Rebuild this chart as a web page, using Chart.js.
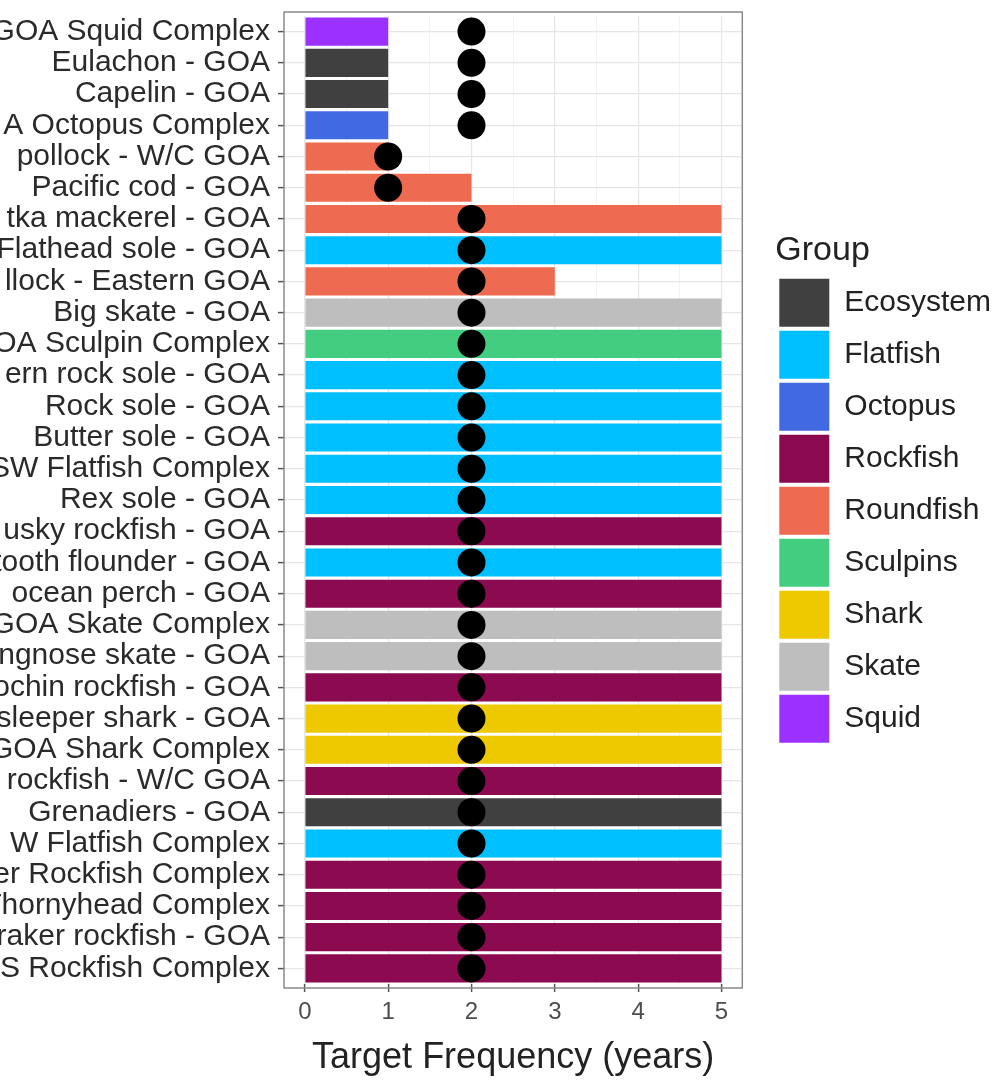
<!DOCTYPE html>
<html>
<head>
<meta charset="utf-8">
<script src="https://cdn.jsdelivr.net/npm/chart.js@4/dist/chart.umd.min.js"></script>
<style>
  html, body { margin: 0; padding: 0; background: #fff; }
  #wrap { width: 1001px; height: 1082px; }
</style>
</head>
<body>
<div id="wrap"><canvas id="freqChart" width="1001" height="1082"></canvas></div>
<script>
// stocks, top to bottom (labels cut off at the left as in the source figure)
const stocks = [
  'GOA Squid Complex', 'Eulachon - GOA', 'Capelin - GOA', 'A Octopus Complex',
  'pollock - W/C GOA', 'Pacific cod - GOA', 'tka mackerel - GOA', 'Flathead sole - GOA',
  'llock - Eastern GOA', 'Big skate - GOA', 'OA Sculpin Complex', 'ern rock sole - GOA',
  'Rock sole - GOA', 'Butter sole - GOA', 'SW Flatfish Complex', 'Rex sole - GOA',
  'usky rockfish - GOA', 'tooth flounder - GOA', 'ocean perch - GOA', 'GOA Skate Complex',
  'ngnose skate - GOA', 'ochin rockfish - GOA', 'sleeper shark - GOA', 'GOA Shark Complex',
  'rockfish - W/C GOA', 'Grenadiers - GOA', 'W Flatfish Complex', 'er Rockfish Complex',
  'Thornyhead Complex', 'raker rockfish - GOA', 'S Rockfish Complex'
];
const stockGroup = [
  'Squid', 'Ecosystem', 'Ecosystem', 'Octopus',
  'Roundfish', 'Roundfish', 'Roundfish', 'Flatfish',
  'Roundfish', 'Skate', 'Sculpins', 'Flatfish',
  'Flatfish', 'Flatfish', 'Flatfish', 'Flatfish',
  'Rockfish', 'Flatfish', 'Rockfish', 'Skate',
  'Skate', 'Rockfish', 'Shark', 'Shark',
  'Rockfish', 'Ecosystem', 'Flatfish', 'Rockfish',
  'Rockfish', 'Rockfish', 'Rockfish'
];
// bar = target frequency, dot = second value (years)
const targetFreq = [1, 1, 1, 1, 1, 2, 5, 5, 3, 5, 5, 5, 5, 5, 5, 5, 5, 5, 5, 5, 5, 5, 5, 5, 5, 5, 5, 5, 5, 5, 5];
const dotFreq    = [2, 2, 2, 2, 1, 1, 2, 2, 2, 2, 2, 2, 2, 2, 2, 2, 2, 2, 2, 2, 2, 2, 2, 2, 2, 2, 2, 2, 2, 2, 2];

const groups = ['Ecosystem', 'Flatfish', 'Octopus', 'Rockfish', 'Roundfish', 'Sculpins', 'Shark', 'Skate', 'Squid'];
const groupColors = ['#404040', '#00bfff', '#4169e1', '#8b0a50', '#ee6a50', '#43cd80', '#eec900', '#bebebe', '#9b30ff'];
const xTicks = [0, 0.5, 1, 1.5, 2, 2.5, 3, 3.5, 4, 4.5, 5];

const FONT = "'Liberation Sans', Arial, sans-serif";
Chart.defaults.font.family = FONT;
Chart.defaults.color = '#333';

const colorOf = g => groupColors[groups.indexOf(g)];

// grey panel border, like ggplot theme_bw
const panelBorder = {
  id: 'panelBorder',
  afterDraw(chart) {
    const { ctx, chartArea: a } = chart;
    ctx.save();
    ctx.strokeStyle = '#8a8a8a';
    ctx.lineWidth = 1.5;
    ctx.strokeRect(a.left, a.top - 4, a.right - a.left, a.bottom - a.top + 8);
    ctx.restore();
  }
};

new Chart(document.getElementById('freqChart').getContext('2d'), {
  type: 'bar',
  data: {
    labels: stocks,
    datasets: [
      {
        type: 'line',
        indexAxis: 'y',
        label: 'dots',
        data: dotFreq,
        showLine: false,
        pointRadius: 14,
        pointBackgroundColor: '#000',
        pointBorderColor: '#000',
        pointBorderWidth: 0,
        order: 0
      },
      {
        label: 'Target Frequency',
        data: targetFreq,
        backgroundColor: stockGroup.map(colorOf),
        borderWidth: 0,
        barPercentage: 0.9,
        categoryPercentage: 1.0,
        order: 1
      }
    ]
  },
  options: {
    indexAxis: 'y',
    responsive: false,
    animation: false,
    layout: { padding: { top: 16, left: 0, right: 0, bottom: 0 } },
    scales: {
      x: {
        type: 'linear',
        min: -0.25,
        max: 5.25,
        afterBuildTicks: scale => { scale.ticks = xTicks.map(v => ({ value: v })); },
        afterFit: scale => { scale.height = 98; },
        ticks: {
          autoSkip: false,
          maxRotation: 0,
          padding: 6,
          color: '#4d4d4d',
          font: { size: 24 },
          callback: v => (Number.isInteger(v) ? String(v) : '')
        },
        grid: {
          color: c => (Number.isInteger(c.tick.value) ? '#e6e6e6' : '#f0f0f0'),
          lineWidth: c => (Number.isInteger(c.tick.value) ? 1.2 : 0.8),
          tickColor: c => (Number.isInteger(c.tick.value) ? '#555' : 'rgba(0,0,0,0)'),
          tickLength: 8,
          tickWidth: 1.5
        },
        border: { display: false },
        title: {
          display: true,
          text: 'Target Frequency (years)',
          color: '#222',
          font: { size: 36 },
          padding: { top: 0, bottom: 2 }
        }
      },
      y: {
        type: 'category',
        afterFit: scale => {
          scale.width = 284;
          scale.paddingTop = 0;
          scale.paddingBottom = 0;
        },
        ticks: {
          autoSkip: false,
          padding: 8,
          color: '#2a2a2a',
          font: { size: 30 }
        },
        grid: {
          offset: false,
          color: '#e6e6e6',
          lineWidth: 1.2,
          tickColor: '#555',
          tickLength: 6,
          tickWidth: 1.5
        },
        border: { display: false }
      },
      gap: {
        type: 'category',
        position: 'right',
        display: false,
        labels: stocks,
        afterFit: scale => { scale.width = 33; }
      }
    },
    plugins: {
      tooltip: { enabled: false },
      legend: {
        position: 'right',
        align: 'start',
        title: {
          display: true,
          text: 'Group',
          position: 'start',
          color: '#222',
          font: { size: 34 },
          padding: { top: 218, bottom: 0 }
        },
        labels: {
          boxWidth: 50,
          boxHeight: 48,
          padding: 4,
          color: '#222',
          font: { size: 30 },
          generateLabels: () => groups.map((g, i) => ({
            text: g,
            fillStyle: groupColors[i],
            strokeStyle: 'rgba(0,0,0,0)',
            lineWidth: 0,
            hidden: false,
            datasetIndex: 1
          }))
        },
        onClick: () => {}
      }
    }
  },
  plugins: [panelBorder]
});
</script>
</body>
</html>
